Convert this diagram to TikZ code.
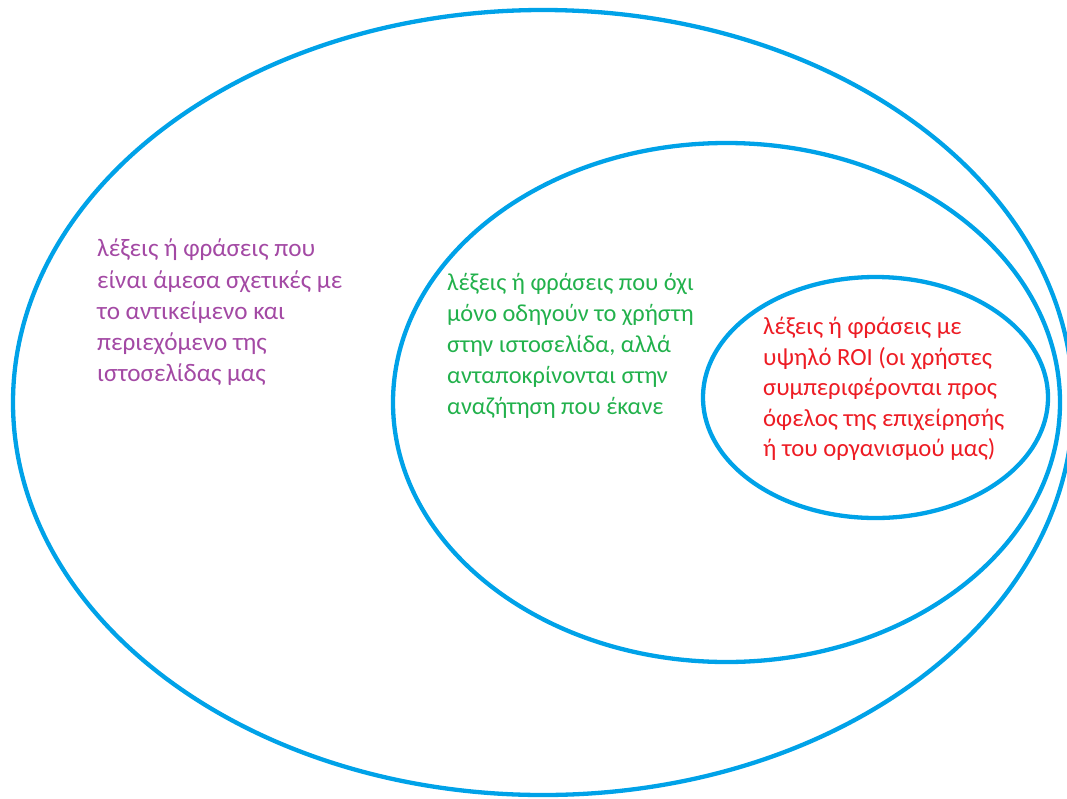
\documentclass[tikz,border=0pt]{standalone}
\usepackage{fontspec}
\setmainfont{Carlito}
\definecolor{paintblue}{HTML}{00A2E8}
\definecolor{paintpurple}{HTML}{A349A4}
\definecolor{paintgreen}{HTML}{22B14C}
\definecolor{paintred}{HTML}{ED1C24}
\begin{document}
\begin{tikzpicture}[x=1pt,y=-1pt,
  ring/.style={draw=paintblue,line width=4.3pt},
  label/.style={inner sep=0pt,anchor=west,align=left,font=\fontsize{24.4}{31}\selectfont}]
\useasboundingbox (0,0) rectangle (1067,798);
\draw[ring] (543,402.5) ellipse [x radius=530, y radius=392.5];
\draw[ring] (726.5,402.5) ellipse [x radius=333.5, y radius=259.5];
\draw[ring] (875.5,397.5) ellipse [x radius=172.5, y radius=120.5];
\node[label,text=paintpurple,font=\fontsize{25.2}{31.2}\selectfont] (outer) at (97,312.5) {λέξεις ή φράσεις που\\είναι άμεσα σχετικές με\\το αντικείμενο και\\περιεχόμενο της\\ιστοσελίδας μας};
\node[label,text=paintgreen] (middle) at (447,345.5) {λέξεις ή φράσεις που όχι\\μόνο οδηγούν το χρήστη\\στην ιστοσελίδα, αλλά\\ανταποκρίνονται στην\\αναζήτηση που έκανε};
\node[label,text=paintred,font=\fontsize{24.7}{30.5}\selectfont] (inner) at (763,389) {λέξεις ή φράσεις με\\υψηλό ROI (οι χρήστες\\συμπεριφέρονται προς\\όφελος της επιχείρησής\\ή του οργανισμού μας)};
\end{tikzpicture}
\end{document}
